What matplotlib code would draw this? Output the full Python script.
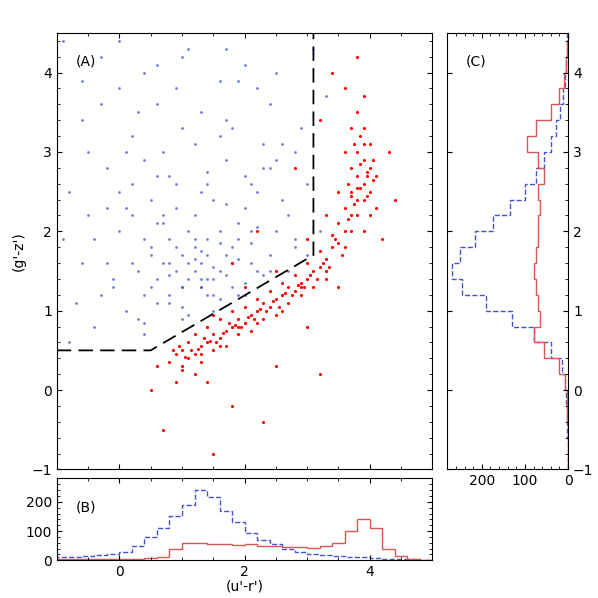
import matplotlib.pyplot as plt
import numpy as np

# scatter points (representative subset)
red_x = [0.8,0.9,1.0,1.0,1.1,1.1,1.2,1.2,1.3,1.3,1.4,1.4,1.5,1.5,1.6,1.6,1.7,1.7,1.8,1.8,
         1.9,1.9,2.0,2.0,2.1,2.1,2.2,2.2,2.3,2.3,2.4,2.4,2.5,2.5,2.6,2.6,2.7,2.7,2.8,2.8,
         2.9,2.9,3.0,3.0,3.1,3.1,3.2,3.2,3.3,3.3,3.4,3.4,3.5,3.5,3.6,3.6,3.7,3.7,3.8,3.8,
         3.8,3.9,3.9,3.9,4.0,4.0,4.0,3.7,3.6,3.7,3.8,4.1,4.1,3.5,3.3,3.0,2.5,2.0,1.5,1.2,
         0.9,1.4,1.8,2.5,3.0,3.5,0.7,1.5,2.3,3.2,4.2,4.4,3.9,3.6,3.2,2.8,3.4,3.8,2.2,1.8,
         0.5,0.6,4.3,1.05,1.25,1.45,1.65,1.85,2.05,2.25,2.45,2.65,2.85,3.05,3.25,3.45,3.65,3.85,3.95,3.75,
         0.85,0.95,1.15,1.35,1.55,1.75,1.95,2.15,2.35,2.55,2.75,2.95,3.15,3.35,3.55,3.7,3.8,3.9,4.0,3.85,
         3.75,3.95,4.05,3.65,3.9,3.8,1.0,1.3,1.6,1.9,2.2,2.6,2.9,3.3,3.6,3.9,4.05,3.7,3.85,3.95]
red_y = [0.35,0.45,0.3,0.5,0.4,0.6,0.45,0.7,0.55,0.35,0.6,0.8,0.5,0.7,0.65,0.9,0.75,0.55,0.8,1.0,
         0.7,0.9,0.85,1.05,0.95,0.75,1.0,1.15,0.9,1.1,1.05,1.25,1.15,0.95,1.2,1.35,1.1,1.3,1.25,1.45,
         1.35,1.2,1.4,1.6,1.5,1.3,1.55,1.75,1.65,1.5,1.8,1.95,1.85,2.1,2.0,2.3,2.2,2.5,2.4,2.7,
         3.0,2.6,2.9,3.3,2.5,2.8,3.1,2.8,3.0,3.3,3.5,2.3,2.7,2.5,2.2,1.9,1.5,1.3,0.95,0.2,
         0.1,0.1,-0.2,0.3,0.8,1.3,-0.5,-0.8,-0.4,0.2,1.9,2.4,3.7,3.8,3.4,2.8,4.0,4.2,2.0,1.6,
         0.0,0.3,3.0,0.42,0.52,0.62,0.72,0.82,0.92,1.02,1.12,1.22,1.32,1.45,1.6,1.9,2.15,2.55,2.7,2.35,
         0.5,0.55,0.5,0.65,0.6,0.85,0.8,0.9,1.0,1.05,1.2,1.3,1.4,1.55,1.7,2.0,2.2,2.4,2.2,3.2,
         3.1,2.75,2.65,2.6,3.1,2.55,0.25,0.45,0.55,0.8,0.85,1.0,1.3,1.4,1.8,2.0,2.9,2.45,2.85,2.45]
blue_x = [-0.8,-0.6,-0.4,-0.2,0.0,0.2,0.4,0.6,0.8,1.0,1.2,1.4,1.6,1.8,2.0,2.2,2.4,2.6,2.8,3.0,
          -0.7,-0.3,0.1,0.5,0.9,1.3,1.7,2.1,2.5,2.9,-0.5,-0.1,0.3,0.7,1.1,1.5,1.9,2.3,2.7,3.1,
          0.0,0.4,0.8,1.2,1.6,2.0,2.4,0.2,0.6,1.0,1.4,1.8,2.2,0.5,0.9,1.3,1.7,2.1,0.7,1.1,
          1.5,1.9,0.8,1.2,1.6,1.0,1.4,1.3,1.2,1.5,-0.9,-0.4,0.3,1.0,1.8,2.6,3.3,-0.6,0.1,0.9,
          1.7,2.5,3.2,-0.2,0.6,1.4,2.2,3.0,0.0,1.1,2.0,2.8,0.4,1.6,2.4,-0.3,0.8,1.9,2.7,1.3,
          0.3,0.5,0.7,0.9,1.1,1.3,1.5,1.7,1.9,2.1,0.4,0.6,0.8,1.0,1.2,1.4,1.6,1.8,2.0,2.2,
          0.2,0.5,0.9,1.3,1.7,2.1,2.5,0.1,0.6,1.0,1.5,2.0,2.4,-0.1,0.4,1.1,1.6,2.3,0.8,1.4,
          -0.8,-0.5,-0.2,0.2,0.7,1.2,1.8,2.3,2.8,-0.6,0.0,0.6,1.3,1.9,2.6,-0.9,-0.3,0.4,1.0,1.7]
blue_y = [2.5,3.4,1.9,2.8,3.8,1.6,2.9,4.1,1.2,3.3,2.2,1.4,3.9,1.8,2.7,1.5,3.6,2.4,3.0,2.6,
          1.1,4.2,2.3,1.7,2.6,1.3,2.9,2.0,4.0,3.3,3.0,1.4,3.5,2.1,1.6,2.4,1.9,3.1,2.2,4.3,
          2.0,1.2,1.9,1.8,1.5,2.3,1.7,2.6,1.4,1.7,1.9,1.3,2.5,1.8,1.5,1.4,1.7,1.6,2.2,2.0,
          1.2,2.1,1.6,1.5,2.0,1.3,1.7,1.6,1.9,1.4,4.4,0.8,0.9,0.9,0.8,1.2,3.7,1.6,3.0,3.8,
          3.4,2.9,2.0,2.3,2.7,2.6,3.8,1.7,4.4,4.3,4.1,1.9,0.7,3.2,2.8,3.6,1.1,1.2,1.5,1.3,
          1.5,1.3,1.6,1.8,1.4,1.75,1.55,1.45,1.65,1.85,1.9,2.1,1.45,1.3,1.65,1.2,1.85,1.6,1.35,2.05,
          2.2,2.4,2.3,2.5,2.35,2.6,2.0,1.0,1.1,1.05,1.0,1.2,1.5,1.3,0.85,0.95,1.15,1.45,2.7,2.75,
          0.6,2.2,1.6,3.2,3.0,3.1,3.3,2.8,1.8,3.9,2.5,3.6,3.5,3.9,3.1,1.9,1.2,4.0,4.2,4.3]

# panel B histograms, bins of 0.2 from -1 to 5
b_edges = np.arange(-1.0, 5.01, 0.2)
b_blue = [10,12,15,18,22,30,50,80,110,150,190,240,215,170,130,95,70,55,40,30,
          22,18,14,12,10,8,6,4,3,2]
b_red = [3,3,3,4,4,5,6,8,10,40,60,58,55,55,52,55,50,48,45,45,42,50,60,100,140,110,40,15,5,2]

# panel C histograms, bins of 0.2 from -1 to 4.6
c_edges = np.arange(-1.0, 4.61, 0.2)
c_blue = [0,1,2,3,5,8,15,40,80,130,190,245,270,250,215,175,135,100,75,55,40,28,18,12,8,5,3,2]
c_red = [0,0,1,2,3,8,20,55,80,65,70,75,80,75,70,70,65,70,55,70,95,75,40,20,10,5,3,1]

fig = plt.figure(figsize=(5.98, 5.98), dpi=100)
axA = fig.add_axes([0.095, 0.215, 0.628, 0.73])
axB = fig.add_axes([0.095, 0.063, 0.628, 0.137])
axC = fig.add_axes([0.748, 0.215, 0.202, 0.73])

axA.scatter(blue_x, blue_y, s=4, c='#3344cc', alpha=0.7, linewidths=0)
axA.scatter(red_x, red_y, s=5, c='red', linewidths=0)
axA.plot([-1, 0.5, 3.1, 3.1], [0.5, 0.5, 1.7, 4.5], color='k', ls=(0, (8, 4)), lw=1.3)
axA.set_xlim(-1, 5)
axA.set_ylim(-1, 4.5)
axA.set_xticks([0, 2, 4])
axA.set_xticklabels([])
axA.set_yticks([-1, 0, 1, 2, 3, 4])
axA.set_ylabel("(g'-z')")
axA.text(0.05, 0.95, '(A)', transform=axA.transAxes, va='top')

axB.stairs(b_blue, b_edges, color='#4455cc', ls='--')
axB.stairs(b_red, b_edges, color='#dd5555')
axB.set_xlim(-1, 5)
axB.set_ylim(0, 280)
axB.set_xticks([0, 2, 4])
axB.set_yticks([0, 100, 200])
axB.set_xlabel("(u'-r')", labelpad=0)
axB.text(0.05, 0.6, '(B)', transform=axB.transAxes)

axC.stairs(c_blue, c_edges, orientation='horizontal', color='#4455cc', ls='--')
axC.stairs(c_red, c_edges, orientation='horizontal', color='#dd5555')
axC.set_xlim(280, 0)
axC.set_ylim(-1, 4.5)
axC.set_xticks([200, 100, 0])
axC.yaxis.tick_right()
axC.set_yticks([-1, 0, 1, 2, 3, 4])
axC.text(0.15, 0.95, '(C)', transform=axC.transAxes, va='top')

for ax in (axA, axB, axC):
    ax.tick_params(direction='in', top=True, right=True, labelsize=10)
    ax.minorticks_on()
    ax.tick_params(which='minor', direction='in', top=True, right=True)
axC.tick_params(left=True, labelleft=False, labelright=True)

fig.savefig('out.png')
